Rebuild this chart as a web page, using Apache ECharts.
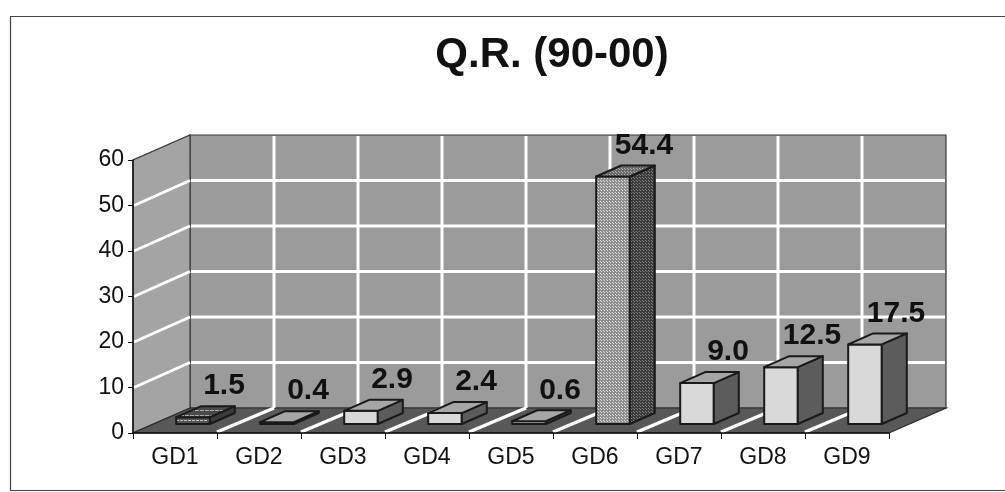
<!DOCTYPE html>
<html>
<head>
<meta charset="utf-8">
<script src="https://cdn.jsdelivr.net/npm/echarts/dist/echarts.min.js"></script>
<style>
html,body{margin:0;padding:0;background:#fff;}
#chart{width:1005px;height:492px;}
</style>
</head>
<body>
<div id="chart"></div>
<script>
// ---- data ----
const chartTitle = 'Q.R. (90-00)';
const categories = ['GD1', 'GD2', 'GD3', 'GD4', 'GD5', 'GD6', 'GD7', 'GD8', 'GD9'];
const values = [1.5, 0.4, 2.9, 2.4, 0.6, 54.4, 9.0, 12.5, 17.5];
const yTicks = [0, 10, 20, 30, 40, 50, 60];

// ---- 3D look (style constants) ----
const WALL_DEPTH = [57, -25];
const BAR_OFFSET = [18, -9];
const BAR_DEPTH = [25, -11];
const BAR_WIDTH_FRAC = 0.4;

function makePattern(base, dot, size, dash) {
  const c = document.createElement('canvas');
  c.width = size; c.height = size;
  const g = c.getContext('2d');
  g.fillStyle = base; g.fillRect(0, 0, size, size);
  g.fillStyle = dot;
  if (dash) { g.fillRect(0, 0, size - 1, 1); }
  else { g.fillRect(0, 0, 1, 1); g.fillRect(Math.floor(size / 2), Math.floor(size / 2), 1, 1); }
  return { image: c, repeat: 'repeat' };
}

const plainStyle = { front: '#d9d9d9', side: '#5c5c5c', top: '#a6a6a6' };
const specialStyles = {
  GD6: {
    front: makePattern('#8e8e8e', '#dedede', 3),
    side: makePattern('#3c3c3c', '#808080', 3),
    top: makePattern('#6a6a6a', '#b0b0b0', 3)
  },
  GD1: {
    front: makePattern('#555555', '#bbbbbb', 4, true),
    side: '#3a3a3a',
    top: makePattern('#4a4a4a', '#aaaaaa', 5, true)
  }
};

const chart = echarts.init(document.getElementById('chart'), null, { renderer: 'canvas' });

function wallsRender(params, api) {
  const n = categories.length;
  const bw = api.size([1, 0])[0];
  const p0 = api.coord([0, yTicks[0]]);
  const pTop = api.coord([0, yTicks[yTicks.length - 1]]);
  const x0 = p0[0] - bw / 2;
  const x1 = x0 + bw * n;
  const yb = p0[1];
  const yt = pTop[1];
  const dx = WALL_DEPTH[0], dy = WALL_DEPTH[1];
  const children = [];
  children.push({ type: 'rect', shape: { x: x0 + dx, y: yt + dy, width: x1 - x0, height: yb - yt },
    style: { fill: '#9b9b9b', stroke: '#3a3a3a', lineWidth: 1.2 } });
  children.push({ type: 'polygon', shape: { points: [[x0, yb], [x0, yt], [x0 + dx, yt + dy], [x0 + dx, yb + dy]] },
    style: { fill: '#a4a4a4', stroke: '#3a3a3a', lineWidth: 1.2 } });
  children.push({ type: 'polygon', shape: { points: [[x0, yb], [x1, yb], [x1 + dx, yb + dy], [x0 + dx, yb + dy]] },
    style: { fill: '#585858', stroke: '#2a2a2a', lineWidth: 1.2 } });
  yTicks.forEach(function (v, k) {
    if (k === 0 || k === yTicks.length - 1) return;
    const y = api.coord([0, v])[1];
    children.push({ type: 'line', shape: { x1: x0 + dx + 1, y1: y + dy, x2: x1 + dx - 1, y2: y + dy },
      style: { stroke: '#ffffff', lineWidth: 3 } });
    children.push({ type: 'line', shape: { x1: x0 + 1, y1: y, x2: x0 + dx, y2: y + dy },
      style: { stroke: '#ffffff', lineWidth: 3 } });
  });
  for (let i = 1; i < n; i++) {
    const xb = x0 + i * bw;
    children.push({ type: 'line', shape: { x1: xb + dx, y1: yt + dy + 1, x2: xb + dx, y2: yb + dy },
      style: { stroke: '#ffffff', lineWidth: 3 } });
    children.push({ type: 'line', shape: { x1: xb, y1: yb - 1, x2: xb + dx, y2: yb + dy },
      style: { stroke: '#ffffff', lineWidth: 3.5 } });
  }
  return { type: 'group', children: children };
}

function barRender(params, api) {
  const idx = api.value(0);
  const v = api.value(1);
  const name = categories[idx];
  const st = specialStyles[name] || plainStyle;
  const bw = api.size([1, 0])[0];
  const w = bw * BAR_WIDTH_FRAC;
  const c0 = api.coord([idx, 0]);
  const c1 = api.coord([idx, v]);
  const fx0 = c0[0] - w / 2 + BAR_OFFSET[0];
  const fx1 = fx0 + w;
  const fyb = c0[1] + BAR_OFFSET[1];
  const fyt = c1[1] + BAR_OFFSET[1];
  const bdx = BAR_DEPTH[0], bdy = BAR_DEPTH[1];
  const line = { stroke: '#1a1a1a', lineWidth: 2, lineJoin: 'round' };
  return {
    type: 'group',
    children: [
      { type: 'rect', shape: { x: fx0, y: fyt, width: w, height: fyb - fyt },
        style: Object.assign({ fill: st.front }, line) },
      { type: 'polygon', shape: { points: [[fx1, fyb], [fx1, fyt], [fx1 + bdx, fyt + bdy], [fx1 + bdx, fyb + bdy]] },
        style: Object.assign({ fill: st.side }, line) },
      { type: 'polygon', shape: { points: [[fx0, fyt], [fx1, fyt], [fx1 + bdx, fyt + bdy], [fx0 + bdx, fyt + bdy]] },
        style: Object.assign({ fill: st.top }, line) },
      { type: 'text', x: fx0 + w / 2 + bdx + 6, y: fyt + bdy - 20,
        style: { text: v.toFixed(1), fill: '#111', font: 'bold 30px "Liberation Sans", Arial, sans-serif',
          align: 'center', verticalAlign: 'middle' }, z2: 10 }
    ]
  };
}

const option = {
  backgroundColor: '#ffffff',
  animation: false,
  graphic: [
    { type: 'rect', left: 8, top: 14, shape: { width: 1010, height: 474 },
      style: { fill: 'none', stroke: '#444', lineWidth: 1.2 }, z: -1 },
    { type: 'text', x: 552, y: 55, style: { text: chartTitle, fill: '#111',
      font: 'bold 42px "Liberation Sans", Arial, sans-serif', align: 'center', verticalAlign: 'middle' } }
  ],
  grid: { left: 133, right: 116, top: 160, bottom: 59 },
  xAxis: {
    type: 'category', data: categories, z: 10,
    axisLine: { lineStyle: { color: '#111', width: 1.5 } },
    axisTick: { show: true, interval: 0, alignWithLabel: false, length: 6, lineStyle: { color: '#111' } },
    axisLabel: { color: '#111', fontSize: 23, fontFamily: '"Liberation Sans", Arial, sans-serif', margin: 13 },
    splitLine: { show: false }
  },
  yAxis: {
    type: 'value', min: 0, max: 60, interval: 10, z: 10,
    axisLine: { show: true, lineStyle: { color: '#111', width: 1.5 } },
    axisTick: { show: true, length: 5, lineStyle: { color: '#111' } },
    axisLabel: { color: '#111', fontSize: 23, fontFamily: '"Liberation Sans", Arial, sans-serif', margin: 9 },
    splitLine: { show: false }
  },
  series: [
    { type: 'custom', name: 'walls', renderItem: wallsRender, data: [[0, 0]], z: 1, silent: true, clip: false },
    { type: 'custom', name: 'Q.R.', renderItem: barRender, z: 3, clip: false,
      data: values.map(function (v, i) { return [i, v]; }) }
  ]
};
chart.setOption(option);
</script>
</body>
</html>
